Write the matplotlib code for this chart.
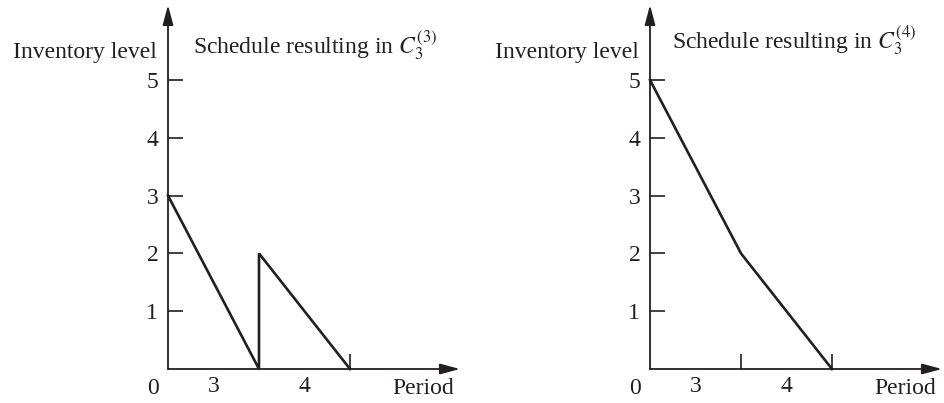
import matplotlib.pyplot as plt

plt.rcParams['font.family'] = ['Liberation Serif', 'DejaVu Serif']
plt.rcParams['mathtext.fontset'] = 'stix'

# inventory level at period breakpoints (x in period widths)
left_x = [0, 1, 1, 2]
left_y = [3, 0, 2, 0]
right_x = [0, 1, 2]
right_y = [5, 2, 0]
y_ticks = [1, 2, 3, 4, 5]
period_labels = ['3', '4']
titles = [r'Schedule resulting in $C_3^{(3)}$', r'Schedule resulting in $C_3^{(4)}$']

ink = '#231f20'
fs = 17
W, H = 945, 403

fig = plt.figure(figsize=(W / 100, H / 100), dpi=100)


def panel(x0, xs, ys, xt, title, tx, ty):
    ox, oy = x0, 369
    ax = fig.add_axes([ox / W, (H - oy) / H, 292 / W, (oy - 5) / H])
    xmax, ymax = 292 / 91, 364 / 57.8
    ax.set_xlim(0, xmax)
    ax.set_ylim(0, ymax)
    for s in ax.spines.values():
        s.set_visible(False)
    arr = dict(arrowstyle='-|>,head_length=1.2,head_width=0.32', color=ink, lw=1.3, shrinkA=0, shrinkB=0)
    ax.annotate('', xy=(xmax, 0), xytext=(0, 0), arrowprops=arr)
    ax.annotate('', xy=(0, ymax), xytext=(0, 0), arrowprops=arr)
    ax.set_yticks(y_ticks)
    ax.set_yticklabels([str(v) for v in y_ticks])
    ax.set_xticks(xt)
    ax.set_xticklabels([''] * len(xt))
    ax.set_xticks([0.5, 1.5], minor=True)
    ax.set_xticklabels(period_labels, minor=True)
    ax.tick_params(axis='both', which='major', direction='in', length=11, width=1.2, color=ink,
                   labelsize=fs, labelcolor=ink)
    ax.tick_params(axis='y', pad=7)
    ax.tick_params(axis='x', which='minor', length=0, labelsize=fs, labelcolor=ink, pad=5)
    ax.plot(xs, ys, color=ink, lw=1.9, solid_joinstyle='miter', clip_on=False)
    ax.text(-0.17, -0.33, '0', fontsize=fs, color=ink, ha='center', va='center')
    ax.text(2.8, -0.33, 'Period', fontsize=fs, color=ink, ha='center', va='center')
    ax.text(-0.12, 5.47, 'Inventory level', fontsize=fs, color=ink, ha='right', va='center')
    ax.text(tx, ty, title, fontsize=fs, color=ink, ha='left', va='center')
    return ax


panel(168, left_x, left_y, [2], titles[0], 0.275, 5.6)
panel(650, right_x, right_y, [1, 2], titles[1], 0.24, 5.69)

fig.savefig('out.png', dpi=100)
